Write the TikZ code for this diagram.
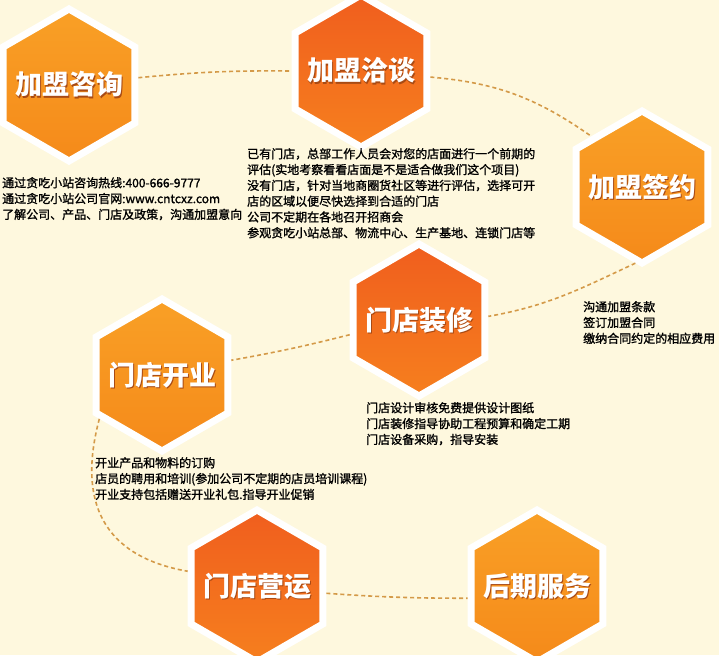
\documentclass[tikz,border=0pt]{standalone}
\usepackage{fontspec}
\setmainfont{Noto Sans CJK SC}
\newfontfamily\notefamily[FakeBold=1.3]{Noto Sans CJK SC}
\usepackage{xcolor}
\usepackage{tikz}
\usetikzlibrary{shapes.geometric}
\definecolor{pagebg}{HTML}{FEF8DE}
\definecolor{linktan}{HTML}{D49A48}
\definecolor{hexorangeT}{HTML}{F9A026}
\definecolor{hexorangeB}{HTML}{F58A1A}
\definecolor{hexredT}{HTML}{F05E1E}
\definecolor{hexredB}{HTML}{F67F1E}
\definecolor{hexshade}{HTML}{A84A14}
\newcommand{\HexFont}{\fontsize{27}{30}\selectfont\bfseries}
\newcommand{\NoteFont}{\notefamily\fontsize{12}{15.8}\selectfont}
% label with a drop shadow, kept out of the node size
\newcommand{\HexText}[1]{\makebox[0pt]{\smash{\raisebox{-10pt}{%
  \makebox[0pt][l]{\hspace{1.6pt}\raisebox{-1.6pt}{\color{hexshade}#1}}#1}}}}

\begin{document}
\begin{tikzpicture}[x=1pt,y=1pt,
    hexbox/.style={regular polygon,regular polygon sides=6,shape border rotate=30,
      minimum size=152pt,inner sep=0pt,draw=white,line width=7pt,text=white,font=\HexFont},
    hexorange/.style={hexbox,top color=hexorangeT,bottom color=hexorangeB},
    hexred/.style={hexbox,top color=hexredT,bottom color=hexredB},
    note/.style={anchor=north west,inner sep=0pt,align=left,font=\NoteFont,text=black},
    link/.style={draw=linktan,line width=1.6pt,dash pattern=on 4pt off 3pt}]
  \fill[pagebg] (0,0) rectangle (719,-655);
  \useasboundingbox (0,0) rectangle (719,-655);
  \clip (0,0) rectangle (719,-655);

  % steps
  \node[hexorange] (consult) at (69,-85) {\HexText{加盟咨询}};
  \node[hexred]    (talk)    at (361,-71) {\HexText{加盟洽谈}};
  \node[hexorange] (sign)    at (642,-187) {\HexText{加盟签约}};
  \node[hexred]    (decor)   at (419,-320) {\HexText{门店装修}};
  \node[hexorange] (open)    at (162,-375) {\HexText{门店开业}};
  \node[hexred]    (run)     at (257,-586) {\HexText{门店营运}};
  \node[hexorange] (service) at (537,-586) {\HexText{后期服务}};

  % notes
  \node[note] (consultnote) at (2,-177) {通过贪吃小站咨询热线:400-666-9777\\
    通过贪吃小站公司官网:www.cntcxz.com\\
    了解公司、产品、门店及政策，沟通加盟意向};
  \node[note] (talknote) at (247,-148) {已有门店，总部工作人员会对您的店面进行一个前期的\\
    评估(实地考察看看店面是不是适合做我们这个项目)\\
    没有门店，针对当地商圈货社区等进行评估，选择可开\\
    店的区域以便尽快选择到合适的门店\\
    公司不定期在各地召开招商会\\
    参观贪吃小站总部、物流中心、生产基地、连锁门店等};
  \node[note] (signnote) at (583,-301) {沟通加盟条款\\
    签订加盟合同\\
    缴纳合同约定的相应费用};
  \node[note] (decornote) at (366,-402) {门店设计审核免费提供设计图纸\\
    门店装修指导协助工程预算和确定工期\\
    门店设备采购，指导安装};
  \node[note] (opennote) at (95,-457) {开业产品和物料的订购\\
    店员的聘用和培训(参加公司不定期的店员培训课程)\\
    开业支持包括赠送开业礼包.指导开业促销};

  % links
  \draw[link] (consult.6) to[bend left=3] (talk.west);
  \draw[link] (talk.-5) to[out=-5,in=145] (sign.135);
  \draw[link] (sign.265) to[out=205,in=10] (decor.3);
  \draw[link] (decor.192) to[bend left=2] (open.12);
  \draw[link] (open.215) to[out=255,in=170,looseness=1.25] (run.168);
  \draw[link] (run.-6) to[bend right=2] (service.190);
\end{tikzpicture}
\end{document}
